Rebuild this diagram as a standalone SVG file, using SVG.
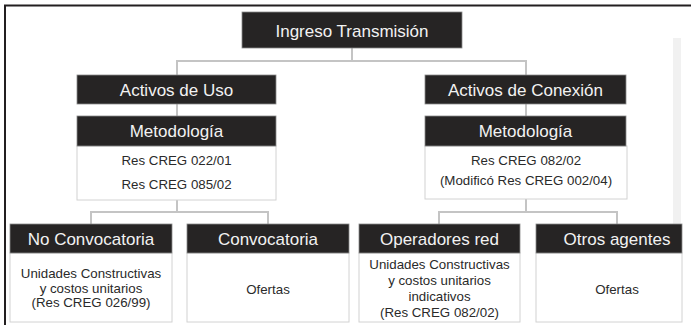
<svg xmlns="http://www.w3.org/2000/svg" width="691" height="325" viewBox="0 0 691 325">
<style>
.hd{fill:#262424;stroke:#8a8a8a;stroke-width:0.8}
.bd{fill:#ffffff;stroke:#d2d2d2;stroke-width:1}
.ht{font-family:"Liberation Sans",Arial,sans-serif;font-size:17px;fill:#f2f2f2;text-anchor:middle}
.bt{font-family:"Liberation Sans",Arial,sans-serif;font-size:13.3px;fill:#2a2a2a;text-anchor:middle}
.cn{fill:none;stroke:#c4c4c4;stroke-width:2}
</style>
<rect x="0" y="0" width="691" height="325" fill="#ffffff"/>
<rect x="673" y="38" width="8" height="186" fill="#f1f1f1"/>
<path d="M5 325 V5.5 H691" fill="none" stroke="#231f20" stroke-width="2"/>
<g id="connectors">
<path class="cn" d="M352 48 V61 M177 75 V61 H526 V75"/>
<path class="cn" d="M177 104 V116 M526 104 V116"/>
<path class="cn" d="M177 200 V212 M91 224 V212 H268 V224"/>
<path class="cn" d="M526 199 V212 M439 224 V212 H617 V224"/>
</g>
<g id="ingreso">
<rect class="hd" x="242" y="12" width="220" height="36"/>
<text class="ht" x="352" y="37">Ingreso Transmisión</text>
</g>
<g id="activos-uso">
<rect class="hd" x="77" y="75" width="199" height="29"/>
<text class="ht" x="176.5" y="96">Activos de Uso</text>
</g>
<g id="metodologia-uso">
<rect class="bd" x="77" y="146" width="199" height="54"/>
<rect class="hd" x="77" y="116" width="199" height="30"/>
<text class="ht" x="176.5" y="137">Metodología</text>
<text class="bt" x="176.5" y="165">Res CREG 022/01</text>
<text class="bt" x="176.5" y="189">Res CREG 085/02</text>
</g>
<g id="activos-conexion">
<rect class="hd" x="425" y="75" width="201" height="29"/>
<text class="ht" x="525.5" y="96">Activos de Conexión</text>
</g>
<g id="metodologia-conexion">
<rect class="bd" x="425" y="146" width="202" height="53"/>
<rect class="hd" x="425" y="116" width="201" height="30"/>
<text class="ht" x="525.5" y="137">Metodología</text>
<text class="bt" x="526" y="165">Res CREG 082/02</text>
<text class="bt" x="526" y="185">(Modificó Res CREG 002/04)</text>
</g>
<g id="no-convocatoria">
<rect class="bd" x="10" y="253" width="162" height="69"/>
<rect class="hd" x="10" y="224" width="162" height="29"/>
<text class="ht" x="91" y="245">No Convocatoria</text>
<text class="bt" x="91" y="278">Unidades Constructivas</text>
<text class="bt" x="91" y="293">y costos unitarios</text>
<text class="bt" x="91" y="307">(Res CREG 026/99)</text>
</g>
<g id="convocatoria">
<rect class="bd" x="187" y="253" width="162" height="69"/>
<rect class="hd" x="187" y="224" width="162" height="29"/>
<text class="ht" x="268" y="245">Convocatoria</text>
<text class="bt" x="268" y="294">Ofertas</text>
</g>
<g id="operadores-red">
<rect class="bd" x="359" y="253" width="161" height="69"/>
<rect class="hd" x="359" y="224" width="161" height="29"/>
<text class="ht" x="439.5" y="245">Operadores red</text>
<text class="bt" x="439.5" y="269">Unidades Constructivas</text>
<text class="bt" x="439.5" y="285">y costos unitarios</text>
<text class="bt" x="439.5" y="301">indicativos</text>
<text class="bt" x="439.5" y="317">(Res CREG 082/02)</text>
</g>
<g id="otros-agentes">
<rect class="bd" x="536" y="253" width="146" height="69"/>
<rect class="hd" x="536" y="224" width="146" height="29"/>
<text class="ht" x="617" y="245">Otros agentes</text>
<text class="bt" x="617" y="294">Ofertas</text>
</g>
</svg>
